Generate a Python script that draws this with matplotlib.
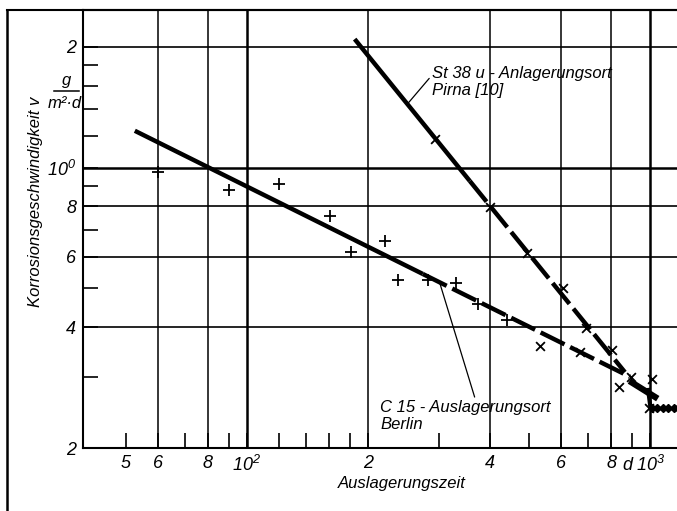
import matplotlib
matplotlib.use('Agg')
import matplotlib.pyplot as plt
from matplotlib.lines import Line2D

plt.rcParams['font.family'] = ['Liberation Sans', 'DejaVu Sans']
plt.rcParams['font.style'] = 'italic'
plt.rcParams['mathtext.fontset'] = 'custom'
plt.rcParams['mathtext.rm'] = 'Liberation Sans:italic'
plt.rcParams['mathtext.it'] = 'Liberation Sans:italic'
plt.rcParams['mathtext.default'] = 'regular'

# C15 Berlin, Messpunkte (+)
c15_tage = [60, 90, 120, 161, 181, 220, 237, 281, 330, 374, 442]
c15_v = [9.76, 8.80, 9.11, 7.58, 6.16, 6.56, 5.25, 5.25, 5.16, 4.57, 4.17]
# weitere Messpunkte (x) am Ende
c15x_tage = [533, 670, 837, 897, 1012, 994]
c15x_v = [3.59, 3.47, 2.84, 3.01, 2.97, 2.52]
# St 38 Pirna (x)
st38_tage = [293, 401, 495, 608, 694, 805]
st38_v = [11.8, 7.98, 6.13, 5.01, 3.98, 3.51]

# Geraden: Anfang, Knick (ab hier gestrichelt), Ende
c15_fit_tage = [52.7, 273, 891]
c15_fit_v = [12.35, 5.43, 3.01]
st38_fit_tage = [185, 357, 866]
st38_fit_v = [20.9, 9.26, 3.09]

# dicker Strich am Ende und Reihe bei 10^3
end_a_tage = [902, 1029]
end_a_v = [2.91, 2.68]
end_b_tage = [989, 1000]
end_b_v = [2.79, 2.56]
tail_tage = [1012, 1040, 1075, 1110, 1145, 1170]
tail_v = [2.52, 2.52, 2.52, 2.52, 2.52, 2.52]

xgrid = [60, 80, 100, 200, 400, 600, 800, 1000]
ygrid = [4, 6, 8, 10, 20]
xticks = [50, 60, 80, 100, 200, 400, 600, 800, 1000]
xticklabels = ['5', '6', '8', '$10^2$', '2', '4', '6', '8', '$10^3$']
xminor = [70, 90, 120, 140, 160, 180, 300, 500, 700, 900]
yticks = [2, 4, 6, 8, 10, 20]
yticklabels = ['2', '4', '6', '8', '$10^0$', '2']
yminor = [3, 5, 7, 9, 12, 14, 16, 18]

fig = plt.figure(figsize=(6.77, 5.11), dpi=100)
ax = fig.add_axes([83/677, 63/511, 594/677, 438/511])
ax.set_xscale('log')
ax.set_yscale('log')
ax.set_xlim(39.2, 1166)
ax.set_ylim(2, 24.7)

for gx in xgrid:
    ax.axvline(gx, color='black', lw=1.8 if gx in (100, 1000) else 1.1, zorder=1)
for gy in ygrid:
    ax.axhline(gy, color='black', lw=1.8 if gy == 10 else 1.2, zorder=1)

ax.spines['right'].set_visible(False)
for s in ('left', 'bottom', 'top'):
    ax.spines[s].set_linewidth(1.5)

ax.set_xticks(xticks, xticklabels)
ax.set_xticks(xminor, minor=True)
ax.set_yticks(yticks, yticklabels)
ax.set_yticks(yminor, minor=True)
ax.xaxis.set_minor_formatter(plt.NullFormatter())
ax.yaxis.set_minor_formatter(plt.NullFormatter())
ax.tick_params(which='both', direction='in', length=11, width=1.2,
               top=False, right=False, labelsize=13, pad=5)

# Geraden
ax.plot(c15_fit_tage[:2], c15_fit_v[:2], color='black', lw=3.2,
        solid_capstyle='butt', zorder=3)
ax.plot(c15_fit_tage[1:], c15_fit_v[1:], color='black', lw=3.2,
        dashes=(6, 1.4), zorder=3)
ax.plot(st38_fit_tage[:2], st38_fit_v[:2], color='black', lw=3.2,
        solid_capstyle='butt', zorder=3)
ax.plot(st38_fit_tage[1:], st38_fit_v[1:], color='black', lw=3.2,
        dashes=(6, 1.4), zorder=3)
ax.plot(end_a_tage, end_a_v, color='black', lw=4.5, zorder=3)
ax.plot(end_b_tage, end_b_v, color='black', lw=3, zorder=3)
ax.plot(tail_tage, tail_v, color='black', lw=2.5, marker='D', ms=4, zorder=3)

# Messpunkte
ax.scatter(c15_tage, c15_v, marker='+', s=70, color='black', lw=1.3, zorder=4)
ax.scatter(c15x_tage, c15x_v, marker='x', s=40, color='black', lw=1.3, zorder=4)
ax.scatter(st38_tage, st38_v, marker='x', s=40, color='black', lw=1.3, zorder=4)

# Beschriftungen
ax.annotate('St 38 u - Anlagerungsort\nPirna [10]', xy=(250, 14.4),
            xytext=(0.5875, 0.835), textcoords='axes fraction',
            fontsize=12, va='center', ha='left', linespacing=1.2,
            arrowprops=dict(arrowstyle='-', color='black', lw=0.9,
                            shrinkA=0, shrinkB=0, relpos=(0, 0.72)))
ax.annotate('C 15 - Auslagerungsort\nBerlin', xy=(300, 5.2),
            xytext=(0.50, 0.073), textcoords='axes fraction',
            fontsize=12, va='center', ha='left', linespacing=1.2,
            arrowprops=dict(arrowstyle='-', color='black', lw=0.9,
                            shrinkA=0, shrinkB=0, relpos=(0.56, 1.0)))

fig.text(627/677, 1 - 465/511, 'd', fontsize=13, ha='center', va='center')
fig.text(402/677, 1 - 483/511, 'Auslagerungszeit', fontsize=12,
         ha='center', va='center')
fig.text(36/677, 1 - 202/511, 'Korrosionsgeschwindigkeit v', fontsize=12,
         rotation=90, ha='center', va='center')
fig.text(67/677, 1 - 80/511, 'g', fontsize=12, ha='center', va='center')
fig.text(65/677, 1 - 103/511, 'm²·d', fontsize=12, ha='center', va='center')
fig.add_artist(Line2D([54/677, 79/677], [1 - 91/511, 1 - 91/511],
                      color='black', lw=1.1))

# aeusserer Rahmen
fig.add_artist(Line2D([7/677, 7/677], [0, 1 - 10/511], color='black', lw=1.8))
fig.add_artist(Line2D([7/677, 1], [1 - 10/511, 1 - 10/511], color='black', lw=1.5))

fig.savefig('out.png', dpi=100)
